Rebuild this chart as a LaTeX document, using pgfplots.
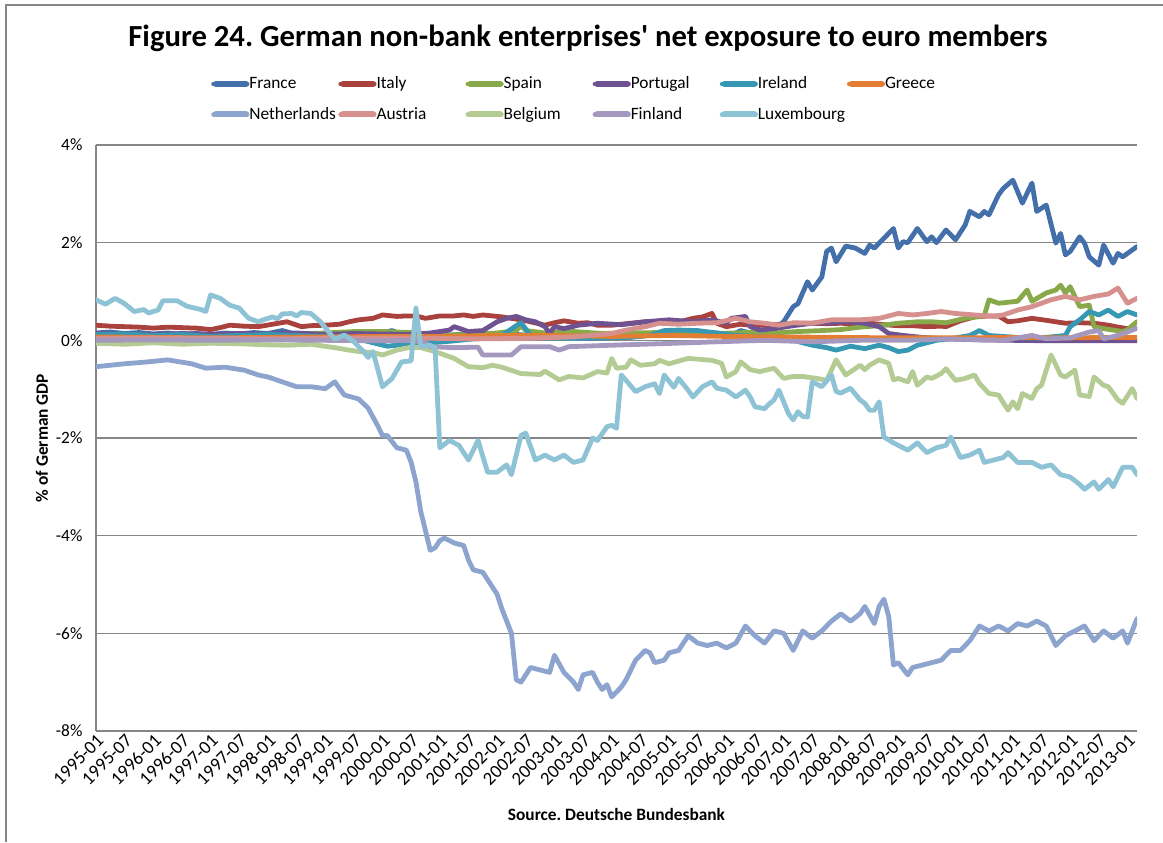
\documentclass[border=0pt]{standalone}
\usepackage{fontspec}
\setmainfont{Carlito}
\usepackage{pgfplots}
\pgfplotsset{compat=1.18}
\frenchspacing
\definecolor{cFrance}{HTML}{4370AB}
\definecolor{cItaly}{HTML}{A9413D}
\definecolor{cSpain}{HTML}{88A94A}
\definecolor{cPortugal}{HTML}{6F5292}
\definecolor{cIreland}{HTML}{3798B3}
\definecolor{cGreece}{HTML}{E27E34}
\definecolor{cNetherlands}{HTML}{8DA5CE}
\definecolor{cAustria}{HTML}{D6918F}
\definecolor{cBelgium}{HTML}{B4CC93}
\definecolor{cFinland}{HTML}{A598BE}
\definecolor{cLuxembourg}{HTML}{8EC2D5}
\definecolor{gridgray}{HTML}{868686}
\begin{document}
\begin{tikzpicture}
\useasboundingbox (0pt,0pt) rectangle (872.25pt,631.5pt);
\draw[gridgray,line width=0.9pt] (4.5pt,0pt) -- (4.5pt,627.75pt) -- (872.25pt,627.75pt);
\begin{axis}[
  at={(72pt,83.25pt)}, anchor=south west,
  scale only axis, width=780.75pt, height=439.5pt,
  xmin=0, xmax=218, ymin=-8, ymax=4,
  axis x line*=bottom, axis y line*=left,
  axis line style={-, draw=gridgray, line width=0.9pt},
  ymajorgrids, grid style={draw=gridgray, line width=0.9pt},
  major tick length=0pt,
  ytick={-8,-6,-4,-2,0,2,4},
  yticklabels={-8\%,-6\%,-4\%,-2\%,0\%,2\%,4\%},
  yticklabel style={font=\fontsize{13}{15}\selectfont, anchor=east, inner sep=0pt, xshift=-10pt},
  xtick={0,6,...,216},
  xticklabels={1995-01,1995-07,1996-01,1996-07,1997-01,1997-07,1998-01,1998-07,1999-01,1999-07,2000-01,2000-07,2001-01,2001-07,2002-01,2002-07,2003-01,2003-07,2004-01,2004-07,2005-01,2005-07,2006-01,2006-07,2007-01,2007-07,2008-01,2008-07,2009-01,2009-07,2010-01,2010-07,2011-01,2011-07,2012-01,2012-07,2013-01},
  xticklabel style={font=\fontsize{14}{16}\selectfont, rotate=45, anchor=north east, inner sep=1pt},
  every axis x label/.style={at={(axis description cs:0.5,-0.1433)}, anchor=center},
  xlabel={\bfseries\fontsize{13}{15}\selectfont Source. Deutsche Bundesbank},
  every axis y label/.style={at={(axis description cs:-0.0519,0.5)}, rotate=90, anchor=center},
  ylabel={\bfseries\fontsize{13}{15}\selectfont \% of German GDP},
  title={\bfseries\fontsize{23}{27}\selectfont Figure 24. German non-bank enterprises\textquotesingle{} net exposure to euro members},
  title style={at={(axis description cs:0.4726,1.169)}, anchor=center},
  legend columns=6,
  legend style={at={(axis description cs:0.1066,1.1212)}, anchor=north west, draw=none, fill=none,
    font=\fontsize{13}{15}\selectfont, nodes={inner sep=0pt}, column sep=0pt, row sep=12.25pt},
  legend image code/.code={\path (0pt,0pt) -- (25pt,0pt); \draw[#1, line cap=round, line width=4.5pt] (1.7pt,0pt) -- (24.3pt,0pt);},
  every axis plot/.append style={line width=3.6pt, line join=round, line cap=round},
]
\addplot[cFrance] coordinates {(0,0.15)(3,0.17)(6,0.14)(9,0.16)(12,0.13)(15,0.15)(18,0.12)(21,0.14)(24,0.12)(27,0.15)(30,0.13)(33,0.16)(36,0.14)(39,0.2)(42,0.12)(45,0.14)(48,0.1)(51,0.12)(54,0.1)(57,0.12)(60,0.15)(62,0.2)(64,0.12)(67,0.1)(70,0.08)(73,0.1)(76,0.12)(79,0.1)(82,0.12)(85,0.15)(88,0.12)(91,0.1)(94,0.08)(97,0.1)(100,0.08)(103,0.05)(106,0.05)(109,0.06)(112,0.08)(115,0.1)(118,0.1)(121,0.12)(124,0.1)(127,0.12)(130,0.15)(133,0.1)(135,0.2)(137,0.15)(139,0.1)(141,0.12)(143,0.3)(144,0.38)(146,0.69)(147,0.75)(149,1.2)(150,1.03)(152,1.3)(153,1.82)(154,1.89)(155,1.61)(157,1.93)(159,1.89)(161,1.78)(162,1.95)(163,1.89)(165,2.09)(167,2.29)(168,1.89)(169,2.02)(170,2.0)(172,2.29)(174,2.02)(175,2.12)(176,2.0)(178,2.26)(180,2.06)(182,2.36)(183,2.64)(185,2.53)(186,2.64)(187,2.57)(189,2.98)(190,3.11)(192,3.28)(194,2.81)(196,3.22)(197,2.64)(199,2.77)(201,1.99)(202,2.19)(203,1.75)(204,1.82)(206,2.12)(207,1.99)(208,1.71)(210,1.54)(211,1.95)(213,1.58)(214,1.78)(215,1.71)(218,1.92)};
\addlegendentry{\makebox[66.75pt][l]{France}}
\addplot[cItaly] coordinates {(0,0.31)(3,0.29)(6,0.28)(9,0.27)(12,0.25)(15,0.27)(18,0.26)(21,0.25)(24,0.22)(26,0.26)(28,0.31)(31,0.29)(34,0.28)(37,0.33)(40,0.38)(43,0.28)(45,0.3)(48,0.31)(51,0.33)(53,0.38)(55,0.42)(58,0.45)(60,0.52)(63,0.49)(65,0.5)(67,0.5)(69,0.45)(72,0.5)(75,0.5)(77,0.52)(79,0.49)(81,0.52)(83,0.5)(85,0.48)(87,0.45)(89,0.42)(91,0.38)(94,0.31)(96,0.36)(98,0.4)(101,0.35)(103,0.36)(105,0.31)(108,0.31)(110,0.33)(112,0.35)(115,0.38)(118,0.38)(121,0.37)(123,0.4)(125,0.45)(127,0.48)(129,0.55)(130,0.35)(132,0.28)(135,0.33)(138,0.3)(141,0.32)(144,0.33)(147,0.35)(150,0.35)(153,0.34)(156,0.35)(159,0.33)(162,0.35)(165,0.32)(168,0.3)(171,0.3)(174,0.28)(177,0.29)(178,0.28)(181,0.4)(184,0.48)(187,0.5)(189,0.5)(191,0.38)(193,0.4)(196,0.45)(199,0.41)(201,0.38)(203,0.35)(206,0.36)(209,0.35)(212,0.31)(214,0.27)(216,0.24)(218,0.24)};
\addlegendentry{\makebox[66.75pt][l]{Italy}}
\addplot[cSpain] coordinates {(0,0.12)(6,0.1)(12,0.12)(18,0.1)(24,0.11)(30,0.12)(36,0.1)(42,0.13)(48,0.15)(54,0.18)(60,0.18)(66,0.16)(72,0.1)(78,0.12)(84,0.15)(88,0.2)(89,0.3)(90,0.2)(94,0.15)(100,0.18)(106,0.14)(112,0.15)(118,0.16)(124,0.15)(130,0.14)(136,0.16)(142,0.15)(147,0.18)(152,0.2)(156,0.22)(160,0.27)(164,0.3)(168,0.35)(172,0.38)(175,0.38)(178,0.36)(182,0.45)(185,0.49)(186,0.5)(187,0.83)(189,0.76)(193,0.8)(195,1.03)(196,0.8)(199,0.97)(201,1.03)(202,1.13)(203,0.97)(204,1.1)(206,0.69)(208,0.72)(209,0.28)(211,0.24)(213,0.21)(215,0.18)(216,0.22)(218,0.38)};
\addlegendentry{\makebox[66.75pt][l]{Spain}}
\addplot[cPortugal] coordinates {(0,0.14)(6,0.13)(12,0.12)(18,0.14)(24,0.12)(30,0.14)(36,0.13)(42,0.15)(48,0.12)(54,0.14)(60,0.13)(66,0.12)(70,0.15)(74,0.21)(75,0.28)(78,0.18)(81,0.2)(84,0.38)(86,0.45)(88,0.49)(90,0.42)(92,0.38)(94,0.28)(95,0.14)(96,0.28)(98,0.24)(101,0.31)(105,0.35)(110,0.32)(115,0.38)(120,0.42)(125,0.38)(129,0.42)(132,0.35)(133,0.45)(136,0.49)(137,0.28)(139,0.21)(142,0.24)(146,0.3)(150,0.35)(154,0.36)(157,0.38)(161,0.35)(164,0.28)(166,0.14)(169,0.1)(173,0.06)(178,0.03)(185,0.01)(192,0.0)(200,-0.01)(210,-0.01)(218,-0.01)};
\addlegendentry{\makebox[66.75pt][l]{Portugal}}
\addplot[cIreland] coordinates {(0,0.12)(6,0.13)(12,0.1)(18,0.12)(24,0.08)(30,0.1)(36,0.12)(42,0.1)(48,0.08)(54,0.05)(58,-0.05)(61,-0.12)(63,-0.1)(66,-0.05)(70,-0.05)(74,-0.02)(78,0.02)(82,0.05)(85,0.1)(88,0.3)(89,0.36)(91,0.1)(94,0.05)(100,0.04)(106,0.05)(112,0.06)(116,0.1)(119,0.2)(122,0.21)(126,0.2)(130,0.15)(134,0.1)(138,0.08)(142,0.05)(146,0.0)(150,-0.1)(153,-0.15)(155,-0.2)(158,-0.12)(161,-0.17)(164,-0.1)(166,-0.15)(168,-0.23)(170,-0.2)(172,-0.1)(176,0.0)(180,0.05)(183,0.1)(185,0.2)(187,0.1)(190,0.08)(194,0.05)(198,0.05)(201,0.08)(203,0.1)(204,0.28)(206,0.42)(208,0.59)(210,0.52)(212,0.62)(214,0.49)(216,0.59)(218,0.52)};
\addlegendentry{\makebox[66.75pt][l]{Ireland}}
\addplot[cGreece] coordinates {(0,0.07)(12,0.06)(24,0.05)(36,0.06)(48,0.07)(60,0.08)(72,0.08)(84,0.1)(96,0.1)(108,0.08)(120,0.1)(132,0.08)(144,0.07)(156,0.06)(168,0.05)(180,0.05)(192,0.06)(204,0.05)(212,0.06)(218,0.06)};
\addlegendentry{\makebox[66.75pt][l]{Greece}}
\addplot[cNetherlands] coordinates {(0,-0.54)(6,-0.48)(11,-0.44)(15,-0.4)(20,-0.48)(23,-0.57)(27,-0.55)(31,-0.61)(34,-0.71)(36,-0.75)(39,-0.85)(42,-0.95)(45,-0.95)(48,-0.99)(50,-0.85)(52,-1.12)(55,-1.2)(57,-1.39)(59,-1.75)(60,-1.95)(61,-1.95)(63,-2.2)(65,-2.25)(66,-2.5)(67,-2.9)(68,-3.5)(69,-3.9)(70,-4.3)(71,-4.25)(72,-4.1)(73,-4.05)(75,-4.15)(77,-4.2)(78,-4.5)(79,-4.7)(81,-4.75)(82,-4.9)(84,-5.2)(85,-5.5)(87,-6.0)(88,-6.95)(89,-7.0)(91,-6.7)(93,-6.75)(95,-6.8)(96,-6.45)(98,-6.8)(100,-7.0)(101,-7.15)(102,-6.85)(104,-6.8)(105,-7.0)(106,-7.15)(107,-7.05)(108,-7.3)(110,-7.1)(111,-6.95)(113,-6.55)(115,-6.35)(116,-6.4)(117,-6.6)(119,-6.55)(120,-6.4)(122,-6.35)(124,-6.05)(126,-6.2)(128,-6.25)(130,-6.2)(132,-6.3)(134,-6.2)(136,-5.85)(138,-6.05)(140,-6.2)(142,-5.95)(144,-6.0)(146,-6.35)(148,-5.95)(150,-6.1)(152,-5.95)(154,-5.75)(156,-5.6)(158,-5.75)(160,-5.6)(161,-5.45)(163,-5.8)(164,-5.45)(165,-5.3)(166,-5.65)(167,-6.65)(168,-6.6)(170,-6.85)(171,-6.7)(173,-6.65)(175,-6.6)(177,-6.55)(179,-6.35)(181,-6.35)(183,-6.15)(185,-5.85)(187,-5.95)(189,-5.85)(191,-5.95)(193,-5.8)(195,-5.85)(197,-5.75)(199,-5.85)(201,-6.25)(203,-6.05)(205,-5.95)(207,-5.85)(209,-6.15)(211,-5.95)(213,-6.1)(215,-5.95)(216,-6.2)(218,-5.7)};
\addlegendentry{\makebox[66.75pt][l]{Netherlands}}
\addplot[cAustria] coordinates {(0,0.04)(12,0.05)(24,0.04)(36,0.03)(48,0.04)(60,0.05)(72,0.04)(80,0.03)(90,0.04)(100,0.07)(108,0.14)(111,0.21)(115,0.28)(118,0.35)(122,0.33)(126,0.35)(130,0.36)(134,0.45)(137,0.38)(140,0.35)(143,0.31)(146,0.36)(150,0.35)(154,0.42)(160,0.42)(164,0.45)(168,0.55)(171,0.52)(174,0.55)(177,0.59)(180,0.55)(184,0.52)(188,0.49)(190,0.52)(193,0.62)(196,0.69)(200,0.83)(203,0.9)(206,0.83)(209,0.9)(212,0.95)(214,1.07)(216,0.76)(218,0.86)};
\addlegendentry{\makebox[66.75pt][l]{Austria}}
\addplot[cBelgium] coordinates {(0,-0.06)(6,-0.08)(12,-0.05)(18,-0.08)(24,-0.06)(30,-0.07)(35,-0.09)(40,-0.1)(45,-0.08)(50,-0.15)(53,-0.2)(55,-0.23)(58,-0.25)(60,-0.3)(63,-0.2)(66,-0.14)(68,-0.15)(71,-0.23)(75,-0.37)(78,-0.54)(81,-0.56)(83,-0.51)(85,-0.55)(89,-0.68)(93,-0.7)(94,-0.63)(97,-0.81)(99,-0.74)(102,-0.77)(105,-0.64)(107,-0.67)(108,-0.37)(109,-0.57)(111,-0.55)(112,-0.4)(114,-0.51)(117,-0.48)(118,-0.41)(120,-0.48)(124,-0.37)(129,-0.41)(131,-0.47)(132,-0.75)(134,-0.64)(135,-0.44)(137,-0.6)(139,-0.64)(142,-0.57)(144,-0.78)(146,-0.74)(148,-0.74)(151,-0.78)(153,-0.82)(155,-0.4)(157,-0.71)(159,-0.58)(160,-0.51)(161,-0.6)(162,-0.51)(164,-0.4)(166,-0.47)(167,-0.81)(168,-0.78)(170,-0.85)(171,-0.64)(172,-0.92)(174,-0.75)(175,-0.78)(177,-0.68)(178,-0.58)(180,-0.82)(182,-0.78)(184,-0.71)(185,-0.88)(187,-1.09)(189,-1.12)(191,-1.43)(192,-1.26)(193,-1.4)(194,-1.09)(196,-1.19)(197,-0.99)(198,-0.92)(199,-0.61)(200,-0.3)(202,-0.71)(203,-0.75)(205,-0.61)(206,-1.12)(208,-1.15)(209,-0.75)(211,-0.92)(212,-0.95)(214,-1.22)(215,-1.29)(217,-0.99)(218,-1.19)};
\addlegendentry{\makebox[66.75pt][l]{Belgium}}
\addplot[cFinland] coordinates {(0,0.0)(12,0.01)(24,0.0)(36,0.01)(48,0.0)(60,-0.01)(66,0.0)(69,-0.05)(70,-0.13)(75,-0.15)(80,-0.14)(81,-0.3)(87,-0.3)(89,-0.13)(95,-0.13)(97,-0.2)(99,-0.13)(108,-0.1)(118,-0.07)(130,-0.03)(140,0.0)(150,-0.03)(160,0.0)(170,0.0)(178,0.03)(190,0.0)(196,0.1)(199,0.03)(204,0.05)(208,0.17)(210,0.2)(211,0.03)(214,0.1)(216,0.17)(218,0.25)};
\addlegendentry{\makebox[66.75pt][l]{Finland}}
\addplot[cLuxembourg] coordinates {(0,0.83)(2,0.74)(4,0.86)(6,0.75)(8,0.59)(10,0.63)(11,0.56)(13,0.62)(14,0.81)(17,0.81)(19,0.7)(22,0.63)(23,0.59)(24,0.93)(26,0.86)(28,0.72)(30,0.66)(31,0.55)(32,0.45)(34,0.38)(35,0.42)(37,0.48)(38,0.44)(39,0.54)(41,0.55)(42,0.5)(43,0.57)(45,0.55)(47,0.38)(49,0.14)(50,0.02)(52,0.11)(54,-0.03)(56,-0.23)(57,-0.35)(58,-0.23)(60,-0.95)(62,-0.78)(64,-0.44)(66,-0.42)(67,0.66)(68,-0.13)(70,-0.1)(71,-0.15)(72,-2.2)(74,-2.05)(76,-2.15)(78,-2.45)(80,-2.05)(82,-2.7)(84,-2.7)(86,-2.55)(87,-2.75)(89,-1.95)(90,-1.9)(92,-2.45)(94,-2.35)(96,-2.45)(98,-2.35)(100,-2.5)(102,-2.45)(104,-2.0)(105,-2.05)(107,-1.77)(108,-1.74)(109,-1.8)(110,-0.71)(111,-0.82)(113,-1.05)(115,-0.95)(117,-0.89)(118,-1.09)(119,-0.71)(121,-0.96)(122,-0.78)(124,-1.02)(125,-1.16)(127,-0.95)(129,-0.85)(130,-0.98)(132,-1.02)(134,-1.16)(136,-1.02)(137,-1.16)(138,-1.36)(140,-1.4)(141,-1.3)(142,-1.22)(143,-1.02)(145,-1.5)(146,-1.63)(147,-1.46)(148,-1.56)(149,-1.57)(150,-0.85)(152,-0.95)(154,-0.71)(155,-1.05)(156,-1.08)(158,-0.98)(160,-1.22)(161,-1.29)(162,-1.43)(163,-1.43)(164,-1.26)(165,-1.98)(167,-2.1)(168,-2.15)(170,-2.25)(172,-2.1)(174,-2.3)(176,-2.2)(178,-2.15)(179,-1.98)(181,-2.4)(183,-2.35)(185,-2.25)(186,-2.5)(188,-2.45)(190,-2.4)(191,-2.3)(193,-2.5)(196,-2.5)(198,-2.6)(200,-2.55)(202,-2.75)(204,-2.8)(206,-2.95)(207,-3.05)(209,-2.9)(210,-3.05)(212,-2.85)(213,-3.0)(215,-2.6)(217,-2.6)(218,-2.75)};
\addlegendentry{\makebox[66.75pt][l]{Luxembourg}}
\end{axis}
\end{tikzpicture}
\end{document}
